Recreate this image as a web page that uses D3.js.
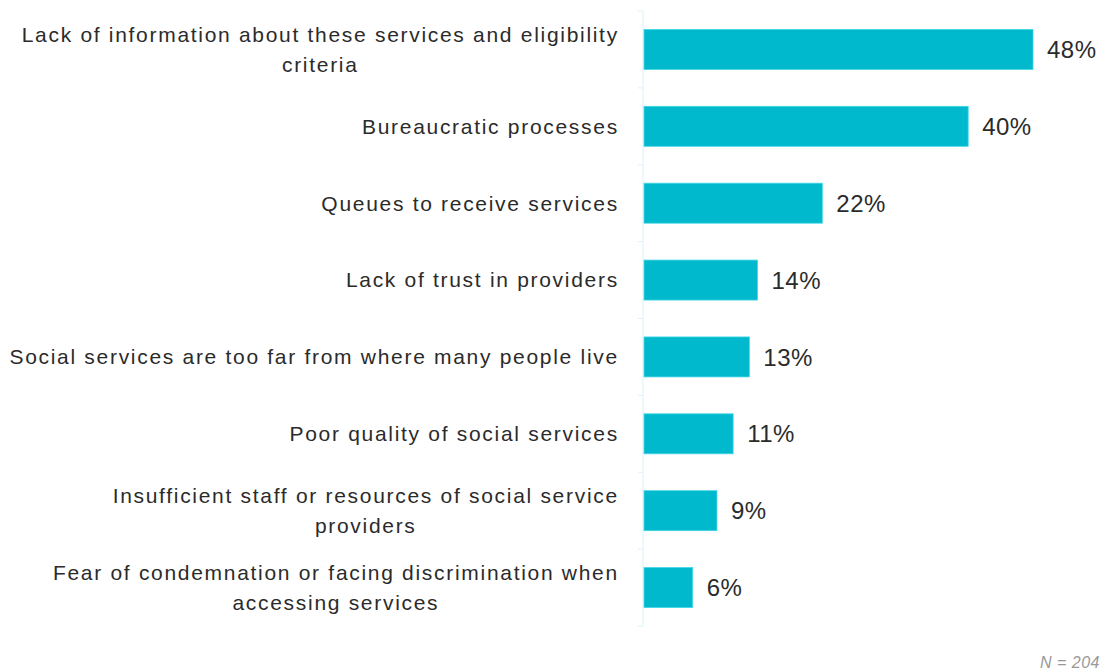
<!DOCTYPE html>
<html>
<head>
<meta charset="utf-8">
<script src="https://cdn.jsdelivr.net/npm/d3@7"></script>
<style>
  html, body { margin: 0; padding: 0; background: #fff; }
  svg { display: block; }
  text { font-family: "Liberation Sans", Arial, sans-serif; }
</style>
</head>
<body>
<svg id="chart" width="1104" height="670"></svg>
<script>
// Barriers to accessing social services (share of respondents, %)
const categories = [
  ["Lack of information about these services and eligibility", "criteria"],
  ["Bureaucratic processes"],
  ["Queues to receive services"],
  ["Lack of trust in providers"],
  ["Social services are too far from where many people live"],
  ["Poor quality of social services"],
  ["Insufficient staff or resources of social service", "providers"],
  ["Fear of condemnation or facing discrimination when", "accessing services"]
];
const values = [48, 40, 22, 14, 13, 11, 9, 6];
const valueLabels = ["48%", "40%", "22%", "14%", "13%", "11%", "9%", "6%"];
const footnote = "N = 204";

const svg = d3.select("#chart");
const W = 1104, H = 670;
const margin = { top: 11, left: 644, bottom: 44 };
const labelRight = 618;

const x = d3.scaleLinear().domain([0, 48]).range([margin.left, 1033]);
const y = d3.scaleBand()
  .domain(d3.range(categories.length))
  .range([margin.top, H - margin.bottom])
  .paddingInner(0.48)
  .paddingOuter(0.24);

// Faint category axis with ticks between categories
const bandTotal = (H - margin.bottom - margin.top) / categories.length;
const boundaries = d3.range(categories.length + 1).map(i => margin.top + i * bandTotal);
svg.append("line")
  .attr("x1", margin.left - 1).attr("x2", margin.left - 1)
  .attr("y1", margin.top).attr("y2", H - margin.bottom)
  .attr("stroke", "#dcf2f6").attr("stroke-width", 1);
svg.selectAll("line.tick").data(boundaries).enter().append("line")
  .attr("class", "tick")
  .attr("x1", margin.left - 6).attr("x2", margin.left - 1)
  .attr("y1", d => d).attr("y2", d => d)
  .attr("stroke", "#dcf2f6").attr("stroke-width", 1);

// Bars
svg.selectAll("rect.bar").data(values).enter().append("rect")
  .attr("class", "bar")
  .attr("x", x(0))
  .attr("y", (d, i) => y(i))
  .attr("width", d => x(d) - x(0))
  .attr("height", y.bandwidth())
  .attr("fill", "#00b9cc")
  .attr("stroke", "#3fd6e6")
  .attr("stroke-width", 0.8);

// Value labels
svg.selectAll("text.val").data(values).enter().append("text")
  .attr("class", "val")
  .attr("x", d => x(d) + 14)
  .attr("y", (d, i) => y(i) + y.bandwidth() / 2)
  .attr("dy", "0.36em")
  .attr("font-size", 24)
  .attr("letter-spacing", 0.5)
  .attr("fill", "#2b2b2b")
  .text((d, i) => valueLabels[i]);

// Category labels: right-aligned block, wrapped lines centred on the first
const lineH = 30;
const spacing = 1.7;
categories.forEach((lines, i) => {
  const cy = y(i) + y.bandwidth() / 2;
  const g = svg.append("g");
  const nodes = lines.map((ln, j) => {
    const off = (j - (lines.length - 1) / 2) * lineH;
    return g.append("text")
      .attr("font-size", 21)
      .attr("letter-spacing", spacing)
      .attr("fill", "#2b2b2b")
      .attr("y", cy + off)
      .attr("dy", "0.35em")
      .text(ln);
  });
  const widths = nodes.map(n => n.node().getComputedTextLength());
  const maxW = d3.max(widths);
  const centre = labelRight - maxW / 2;
  nodes.forEach((n, j) => n.attr("x", centre - widths[j] / 2 + spacing / 2));
});

// Footnote, bottom-right corner
svg.append("text")
  .attr("x", 1040).attr("y", 668)
  .attr("font-size", 16)
  .attr("letter-spacing", 0.5)
  .attr("font-style", "italic")
  .attr("fill", "#999")
  .text(footnote);
</script>
</body>
</html>
